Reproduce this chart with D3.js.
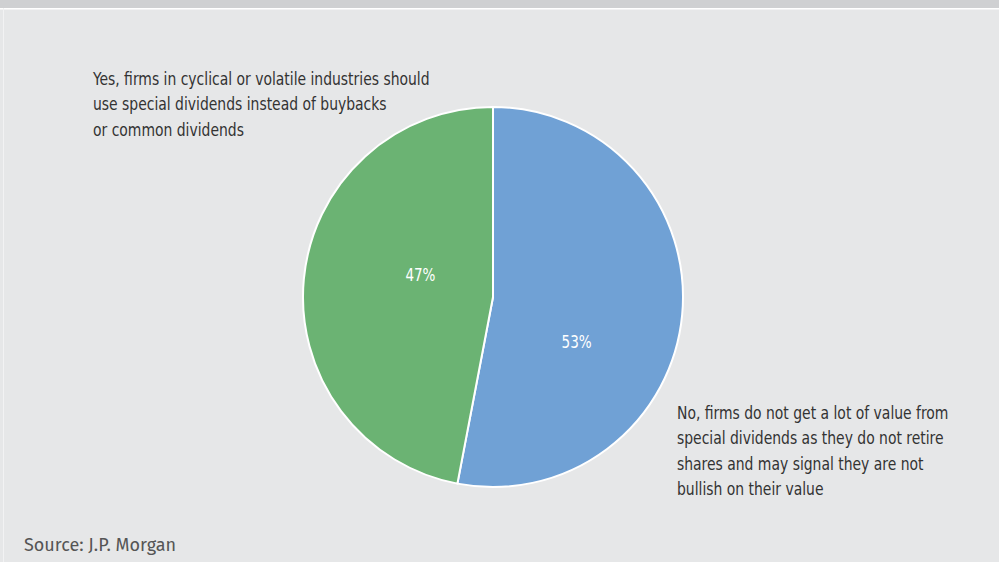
<!DOCTYPE html>
<html>
<head>
<meta charset="utf-8">
<script src="https://cdn.jsdelivr.net/npm/d3@7"></script>
<style>
  html, body { margin: 0; padding: 0; background: #e6e7e8; }
  svg { display: block; }
</style>
</head>
<body>
<svg id="chart" width="999" height="562"></svg>
<script>
// Survey answers and their shares (%)
const categories = [
  "No, firms do not get a lot of value from special dividends as they do not retire shares and may signal they are not bullish on their value",
  "Yes, firms in cyclical or volatile industries should use special dividends instead of buybacks or common dividends"
];
const values = [53, 47];
const colors = ["#70a1d5", "#6bb373"];
const labelLines = [
  ["No, firms do not get a lot of value from", "special dividends as they do not retire", "shares and may signal they are not", "bullish on their value"],
  ["Yes, firms in cyclical or volatile industries should", "use special dividends instead of buybacks", "or common dividends"]
];
const source = "Source: J.P. Morgan";

const W = 999, H = 562;
const svg = d3.select("#chart");
const condensed = "'DejaVu Sans Condensed', 'Liberation Sans Narrow', sans-serif";
const squeeze = 0.885;

// background panel and top band
svg.append("rect").attr("width", W).attr("height", H).attr("fill", "#e6e7e8");
svg.append("rect").attr("width", W).attr("height", 8).attr("fill", "#cfd0d2");
svg.append("rect").attr("y", 8).attr("width", W).attr("height", 1.5).attr("fill", "#ffffff");
svg.append("rect").attr("x", 3).attr("y", 8).attr("width", 1).attr("height", H).attr("fill", "#f2f2f3");

const cx = 493, cy = 297, R = 190;

const pie = d3.pie().sort(null).value(d => d);
const arcs = pie(values);
const arc = d3.arc().innerRadius(0).outerRadius(R);

const g = svg.append("g").attr("transform", `translate(${cx},${cy})`);
g.selectAll("path.slice")
  .data(arcs)
  .join("path")
  .attr("class", "slice")
  .attr("d", arc)
  .attr("fill", (d, i) => colors[i])
  .attr("stroke", "#ffffff")
  .attr("stroke-width", 2)
  .attr("stroke-linejoin", "round");

// percentage labels inside slices
const labelArc = d3.arc().innerRadius(R * 0.5).outerRadius(R * 0.5);
const pctNudge = [[-11, 36], [22, -13]];
g.selectAll("text.pct")
  .data(arcs)
  .join("text")
  .attr("class", "pct")
  .attr("transform", (d, i) => {
    const c = labelArc.centroid(d);
    return `translate(${c[0] + pctNudge[i][0]},${c[1] + pctNudge[i][1]}) scale(${squeeze},1)`;
  })
  .attr("text-anchor", "middle")
  .attr("dy", "0.35em")
  .attr("fill", "#ffffff")
  .style("font-family", condensed)
  .style("font-size", "17px")
  .text(d => d.value + "%");

// category labels
const catPos = [[677, 419], [93, 85]];
labelLines.forEach((lines, i) => {
  const t = svg.append("text")
    .attr("transform", `translate(${catPos[i][0]},${catPos[i][1]}) scale(${squeeze},1)`)
    .attr("fill", "#333333")
    .style("font-family", condensed)
    .style("font-size", "17.5px");
  lines.forEach((ln, j) => {
    t.append("tspan").attr("x", 0).attr("dy", j === 0 ? 0 : 25.5).text(ln);
  });
});

svg.append("text")
  .attr("x", 24).attr("y", 551)
  .attr("fill", "#555555")
  .style("font-family", "'Fira Sans', 'Open Sans', sans-serif")
  .style("font-size", "18px")
  .text(source);
</script>
</body>
</html>
